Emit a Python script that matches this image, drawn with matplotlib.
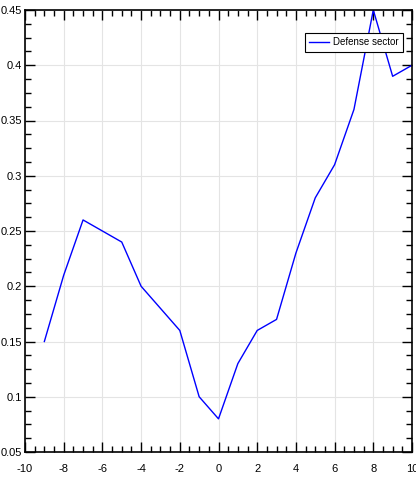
import matplotlib
matplotlib.use('Agg')
from matplotlib import pyplot as plt
from matplotlib.ticker import MultipleLocator

plt.rcParams['font.family'] = ['Liberation Sans', 'DejaVu Sans']

x = [-9, -8, -7, -6, -5, -4, -3, -2, -1, 0, 1, 2, 3, 4, 5, 6, 7, 8, 9, 10]
defense = [0.15, 0.21, 0.26, 0.25, 0.24, 0.20, 0.18, 0.16, 0.10, 0.08,
           0.13, 0.16, 0.17, 0.23, 0.28, 0.31, 0.36, 0.45, 0.39, 0.40]
xticks = [-10, -8, -6, -4, -2, 0, 2, 4, 6, 8, 10]
yticks = [0.05, 0.1, 0.15, 0.2, 0.25, 0.3, 0.35, 0.4, 0.45]
ylabels = ['0.05', '0.1', '0.15', '0.2', '0.25', '0.3', '0.35', '0.4', '0.45']

fig = plt.figure(figsize=(4.16, 4.82), dpi=100)
ax = fig.add_axes([25/416, 30/482, 387/416, 442/482])

ax.plot(x, defense, color='blue', lw=1, label='Defense sector')

ax.set_xlim(-10, 10)
ax.set_ylim(0.05, 0.45)
ax.set_xticks(xticks)
ax.set_xticklabels([str(t) for t in xticks])
ax.set_yticks(yticks)
ax.set_yticklabels(ylabels)
ax.xaxis.set_minor_locator(MultipleLocator(0.5))
ax.yaxis.set_minor_locator(MultipleLocator(0.0125))

ax.tick_params(which='both', direction='in', top=True, right=True, labelsize=8)
ax.tick_params(axis='y', pad=2)
ax.tick_params(axis='x', pad=9)
ax.tick_params(which='major', length=7, width=1)
ax.tick_params(which='minor', length=4, width=1)
ax.grid(True, which='major', color='#e4e4e4', lw=0.8)
for s in ax.spines.values():
    s.set_linewidth(1.2)

leg = ax.legend(loc='upper right', bbox_to_anchor=(0.99, 0.96), fontsize=7,
                fancybox=False, edgecolor='black', framealpha=1,
                handlelength=2.0, handletextpad=0.4, borderpad=0.5)
leg.get_frame().set_linewidth(0.8)

fig.savefig('out.png', dpi=100)
